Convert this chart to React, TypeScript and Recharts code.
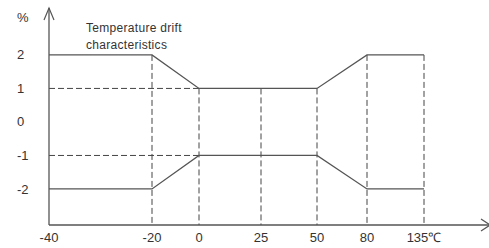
import React from 'react';
import { LineChart, Line, XAxis, YAxis, ReferenceLine } from 'recharts';

// limit curves (% drift vs temperature)
const temps = [-40, -20, 0, 50, 80, 135];
const upper = [2, 2, 1, 1, 2, 2];
const lower = [-2, -2, -1, -1, -2, -2];

const xTicks = [-40, -20, 0, 25, 50, 80, 135];
const yTicks = [-2, -1, 0, 1, 2];

// dashed guides
const vGuideX = [-20, 0, 25, 50, 80, 135];
const vGuideTop = [2, 1, 1, 1, 2, 2];
const hGuideY = [1, -1];
const hGuideTo = 0;

// the drawing is schematic: temperature axis is not to scale
const axisKnots = [-40, -20, 0, 25, 50, 80, 135, 180];
const knotPx = [0, 103, 150, 212, 268, 318, 375, 440];

const Y_MIN = -3.075;
const Y_MAX = 3.4;
const X_MAX = 180;

const data = temps.map((t, i) => ({ t, upper: upper[i], lower: lower[i] }));

function piecewise(dom: number[] = [axisKnots[0], X_MAX], rng: number[] = [0, 1]): any {
  const total = knotPx[knotPx.length - 1];
  const s: any = (v: number) => {
    let i = 0;
    while (i < axisKnots.length - 2 && v > axisKnots[i + 1]) i++;
    const k = (v - axisKnots[i]) / (axisKnots[i + 1] - axisKnots[i]);
    const f = (knotPx[i] + k * (knotPx[i + 1] - knotPx[i])) / total;
    return rng[0] + f * (rng[1] - rng[0]);
  };
  s.domain = (d?: number[]) => {
    if (d === undefined) return dom.slice();
    dom = d.slice();
    return s;
  };
  s.range = (r?: number[]) => {
    if (r === undefined) return rng.slice();
    rng = r.slice();
    return s;
  };
  s.copy = () => piecewise(dom, rng);
  s.ticks = () => xTicks;
  s.tickFormat = () => (v: number) => String(v);
  s.invert = (p: number) => {
    const f = ((p - rng[0]) / (rng[1] - rng[0])) * total;
    let i = 0;
    while (i < knotPx.length - 2 && f > knotPx[i + 1]) i++;
    const k = (f - knotPx[i]) / (knotPx[i + 1] - knotPx[i]);
    return axisKnots[i] + k * (axisKnots[i + 1] - axisKnots[i]);
  };
  s.clamp = () => s;
  s.nice = () => s;
  return s;
}

const xScale = piecewise();

const textStyle = { fontFamily: 'Liberation Sans, Arial, sans-serif', fontSize: 13, fill: '#333' };
const titleStyle = { fontFamily: 'Liberation Sans, Arial, sans-serif', fontSize: 12, fill: '#333', letterSpacing: 0.3 };

const YTick = (props: any) => {
  const { y, payload } = props;
  return (
    <text x={17} y={y} dy="0.35em" textAnchor="start" {...textStyle}>
      {payload.value}
    </text>
  );
};

const XTick = (props: any) => {
  const { x, y, payload } = props;
  const label = payload.value === 135 ? '135℃' : String(payload.value);
  return (
    <text x={x} y={y} dy="0.71em" textAnchor="middle" {...textStyle}>
      {label}
    </text>
  );
};

const dash = '6 3';
const guideColor = '#444';
const lineColor = '#555';

export default function App() {
  return (
    <div style={{ position: 'absolute', left: 0, top: 0, width: 489, height: 248, background: '#fff' }}>
      <LineChart width={489} height={248} data={data} margin={{ top: 8, right: 0, bottom: 0, left: 0 }}>
        <XAxis
          dataKey="t"
          type="number"
          domain={[axisKnots[0], X_MAX]}
          scale={xScale}
          ticks={xTicks}
          tick={<XTick />}
          tickLine={false}
          height={23}
          axisLine={{ stroke: lineColor, strokeWidth: 1.3 }}
          allowDataOverflow
        />
        <YAxis
          type="number"
          domain={[Y_MIN, Y_MAX]}
          ticks={yTicks}
          tick={<YTick />}
          tickLine={false}
          width={49}
          axisLine={{ stroke: lineColor, strokeWidth: 1.3 }}
          allowDataOverflow
        />
        {hGuideY.map((y) => (
          <ReferenceLine
            key={'h' + y}
            segment={[{ x: axisKnots[0], y }, { x: hGuideTo, y }]}
            stroke={guideColor}
            strokeDasharray={dash}
            strokeWidth={1}
          />
        ))}
        {vGuideX.map((x, i) => (
          <ReferenceLine
            key={'v' + x}
            segment={[{ x, y: vGuideTop[i] }, { x, y: Y_MIN }]}
            stroke={guideColor}
            strokeDasharray={dash}
            strokeWidth={1}
          />
        ))}
        <Line type="linear" dataKey="upper" stroke={lineColor} strokeWidth={1.3} dot={false} isAnimationActive={false} />
        <Line type="linear" dataKey="lower" stroke={lineColor} strokeWidth={1.3} dot={false} isAnimationActive={false} />
      </LineChart>
      <svg width={489} height={248} style={{ position: 'absolute', left: 0, top: 0, pointerEvents: 'none' }}>
        <polyline points="44,20 49,8 54,20" fill="none" stroke={lineColor} strokeWidth={1.2} />
        <polyline points="481,219 490,225 481,231" fill="none" stroke={lineColor} strokeWidth={1.2} />
        <text x={17} y={17} dy="0.35em" {...textStyle}>%</text>
        <text x={86} y={32} style={titleStyle}>Temperature drift</text>
        <text x={86} y={49} style={titleStyle}>characteristics</text>
      </svg>
    </div>
  );
}
